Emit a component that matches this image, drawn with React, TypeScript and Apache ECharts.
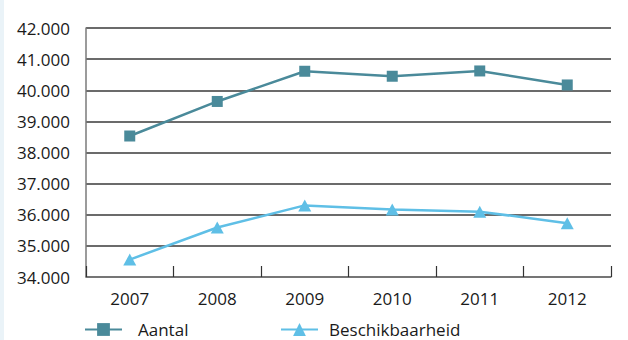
import React, { useEffect, useRef } from "react";
import * as echarts from "echarts";

const years = ["2007", "2008", "2009", "2010", "2011", "2012"];
const aantal = [38530, 39640, 40610, 40450, 40620, 40170];
const beschikbaarheid = [34560, 35590, 36300, 36170, 36100, 35730];
const seriesNames = ["Aantal", "Beschikbaarheid"];

const FONT = "'Open Sans', 'Noto Sans', sans-serif";
const TEAL = "#4a8a9a";
const LIGHT = "#5fbfe6";

export default function App() {
  const ref = useRef<HTMLDivElement>(null);
  useEffect(() => {
    const chart = echarts.init(ref.current!, null, { renderer: "svg" });
    const legendText = (pad: number) => ({ fontFamily: FONT, fontSize: 17, color: "#1a1a1a", padding: [0, 0, 0, pad] });
    chart.setOption({
      animation: false,
      textStyle: { fontFamily: FONT },
      graphic: [
        { type: "rect", left: 0, top: 0, shape: { width: 4, height: 340 }, style: { fill: "#eaf3f8" }, silent: true },
      ],
      grid: { left: 86, right: 17, top: 28, bottom: 63, containLabel: false },
      legend: [
        {
          data: [seriesNames[0]],
          left: 84,
          top: 321,
          padding: 0,
          itemWidth: 37,
          itemHeight: 16,
          textStyle: legendText(11),
        },
        {
          data: [seriesNames[1]],
          left: 280,
          top: 321,
          padding: 0,
          itemWidth: 37,
          itemHeight: 16,
          textStyle: legendText(6),
        },
      ],
      xAxis: {
        type: "category",
        data: years,
        axisLine: { show: true, lineStyle: { color: "#7a7a7a", width: 1.5 } },
        axisTick: { show: true, inside: true, length: 11, lineStyle: { color: "#333", width: 1.2 } },
        axisLabel: { color: "#1a1a1a", fontSize: 17, fontFamily: FONT, margin: 13 },
        splitLine: { show: false },
      },
      yAxis: {
        type: "value",
        min: 34000,
        max: 42000,
        interval: 1000,
        axisLine: { show: true, lineStyle: { color: "#7a7a7a", width: 1.5 } },
        axisTick: { show: false },
        axisLabel: {
          color: "#1a1a1a",
          fontSize: 17,
          fontFamily: FONT,
          margin: 16,
          formatter: (v: number) => {
            const s = String(v);
            return s.slice(0, s.length - 3) + "." + s.slice(-3);
          },
        },
        splitLine: { show: true, lineStyle: { color: "#3a3a3a", width: 1.5 } },
      },
      series: [
        {
          name: seriesNames[0],
          type: "line",
          data: aantal,
          symbol: "rect",
          symbolSize: 11,
          lineStyle: { color: TEAL, width: 2.5 },
          itemStyle: { color: TEAL },
        },
        {
          name: seriesNames[1],
          type: "line",
          data: beschikbaarheid,
          symbol: "triangle",
          symbolSize: [13, 12],
          lineStyle: { color: LIGHT, width: 2.5 },
          itemStyle: { color: LIGHT },
        },
      ],
    });
    return () => chart.dispose();
  }, []);
  return <div ref={ref} style={{ width: 628, height: 340, position: "absolute", left: 0, top: 0 }} />;
}
